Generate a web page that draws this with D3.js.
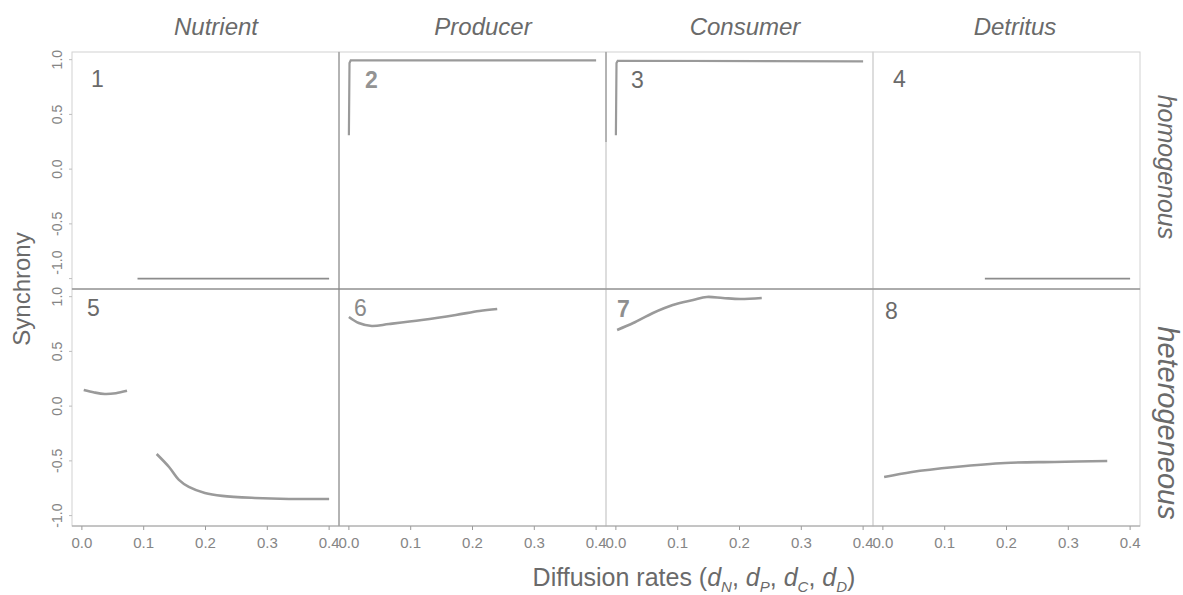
<!DOCTYPE html>
<html>
<head>
<meta charset="utf-8">
<script src="https://cdn.jsdelivr.net/npm/d3@7"></script>
<style>
  html, body { margin: 0; padding: 0; background: #fff; }
  svg { display: block; }
  text { font-family: "Liberation Sans", Arial, sans-serif; }
</style>
</head>
<body>
<svg id="chart" width="1183" height="595"></svg>
<script>
// Facet labels
const columns = ["Nutrient", "Producer", "Consumer", "Detritus"];
const rows = ["homogenous", "heterogeneous"];
const panelNumbers = ["1", "2", "3", "4", "5", "6", "7", "8"];

// Axis ticks
const xTicks = [0, 0.1, 0.2, 0.3, 0.4];
const yTicks = [-1, -0.5, 0, 0.5, 1];

// Synchrony vs diffusion rate, one set of arrays per panel segment
// homogeneous row
const p1x = [0.09, 0.40];
const p1y = [-1.0, -1.0];
const p2x = [0.0, 0.001, 0.003, 0.40];
const p2y = [0.31, 0.97, 0.994, 0.994];
const p3x = [0.0, 0.001, 0.003, 0.40];
const p3y = [0.31, 0.97, 0.99, 0.985];
const p4x = [0.165, 0.40];
const p4y = [-1.0, -1.0];
// heterogeneous row
const p5aX = [0.003, 0.02, 0.037, 0.055, 0.073];
const p5aY = [0.148, 0.125, 0.111, 0.118, 0.14];
const p5bX = [0.121, 0.141, 0.157, 0.173, 0.199, 0.227, 0.28, 0.335, 0.40];
const p5bY = [-0.437, -0.556, -0.674, -0.738, -0.793, -0.82, -0.839, -0.848, -0.848];
const p6x = [0.0, 0.016, 0.037, 0.065, 0.118, 0.173, 0.211, 0.24];
const p6y = [0.814, 0.759, 0.732, 0.75, 0.787, 0.833, 0.869, 0.887];
const p7x = [0.002, 0.028, 0.06, 0.092, 0.125, 0.147, 0.173, 0.201, 0.236];
const p7y = [0.696, 0.759, 0.851, 0.924, 0.969, 0.997, 0.988, 0.979, 0.988];
const p8x = [0.002, 0.047, 0.117, 0.198, 0.278, 0.363];
const p8y = [-0.647, -0.601, -0.556, -0.519, -0.51, -0.501];

const zip = (xs, ys) => xs.map((x, i) => ({ x, y: ys[i] }));

// panel index -> segments; "step" segments are drawn with straight joins
const panels = [
  { segs: [zip(p1x, p1y)], thin: true },
  { segs: [zip(p2x, p2y)], step: true },
  { segs: [zip(p3x, p3y)], step: true },
  { segs: [zip(p4x, p4y)], thin: true },
  { segs: [zip(p5aX, p5aY), zip(p5bX, p5bY)] },
  { segs: [zip(p6x, p6y)] },
  { segs: [zip(p7x, p7y)] },
  { segs: [zip(p8x, p8y)] }
];

// Layout
const plotLeft = 72, plotTop = 52, pw = 267, ph = 237;
const svg = d3.select("#chart");

const x = d3.scaleLinear().domain([-0.016, 0.416]).range([0, pw]);
const y = d3.scaleLinear().domain([-1.095, 1.07]).range([ph, 0]);

const numberStyle = [
  { dx: 19, dy: 35, c: "#6a6a6a", w: "normal" },
  { dx: 26, dy: 36, c: "#939393", w: "bold" },
  { dx: 25, dy: 36, c: "#6a6a6a", w: "normal" },
  { dx: 20, dy: 35, c: "#6a6a6a", w: "normal" },
  { dx: 15, dy: 27, c: "#6a6a6a", w: "normal" },
  { dx: 15, dy: 27, c: "#8a8a8a", w: "normal" },
  { dx: 11, dy: 28, c: "#8f8f8f", w: "bold" },
  { dx: 12, dy: 30, c: "#6a6a6a", w: "normal" }
];

const smooth = d3.line().x(d => x(d.x)).y(d => y(d.y)).curve(d3.curveCatmullRom.alpha(0.5));
const straight = d3.line().x(d => x(d.x)).y(d => y(d.y));

panels.forEach((p, i) => {
  const r = Math.floor(i / 4), c = i % 4;
  const g = svg.append("g")
    .attr("transform", `translate(${plotLeft + c * pw},${plotTop + r * ph})`);

  g.append("rect")
    .attr("width", pw).attr("height", ph)
    .attr("fill", "none")
    .attr("stroke", "#d2d2d2").attr("stroke-width", 1);

  p.segs.forEach(seg => {
    g.append("path")
      .datum(seg)
      .attr("fill", "none")
      .attr("stroke", p.thin ? "#8c8c8c" : "#9a9a9a")
      .attr("stroke-width", p.thin ? 1.6 : (p.step ? 2.2 : 2.6))
      .attr("stroke-linecap", "butt")
      .attr("d", p.step ? straight : smooth);
  });

  const ns = numberStyle[i];
  g.append("text")
    .attr("x", ns.dx).attr("y", ns.dy)
    .attr("font-size", 23)
    .attr("font-weight", ns.w)
    .attr("fill", ns.c)
    .text(panelNumbers[i]);

  // left column carries the y axis
  if (c === 0) {
    const ay = g.append("g");
    ay.selectAll("line").data(yTicks).join("line")
      .attr("x1", -3).attr("x2", 0)
      .attr("y1", d => y(d)).attr("y2", d => y(d))
      .attr("stroke", "#bdbdbd");
    // the lowest label of the upper panel is nudged up clear of the panel below
    ay.selectAll("text").data(yTicks).join("text")
      .attr("transform", d => `translate(-10,${y(d) - (r === 0 && d === yTicks[0] ? 16 : 0)}) rotate(-90)`)
      .attr("text-anchor", "middle")
      .attr("font-size", 14)
      .attr("fill", "#858585")
      .text(d => d3.format(".1f")(d).replace("−", "-"));
  }
  // bottom row carries the x axis
  if (r === 1) {
    const ax = g.append("g").attr("transform", `translate(0,${ph})`);
    ax.selectAll("line").data(xTicks).join("line")
      .attr("x1", d => x(d)).attr("x2", d => x(d))
      .attr("y1", 0).attr("y2", 4)
      .attr("stroke", "#9a9a9a");
    ax.selectAll("text").data(xTicks).join("text")
      .attr("x", d => x(d)).attr("y", 22)
      .attr("text-anchor", "middle")
      .attr("font-size", 15)
      .attr("fill", "#858585")
      .text(d => d3.format(".1f")(d));
  }
});

// Stronger frame lines between panels
const strong = [
  { x1: plotLeft + pw, y1: plotTop, x2: plotLeft + pw, y2: plotTop + 2 * ph, c: "#8a8a8a" },
  { x1: plotLeft, y1: plotTop + ph, x2: plotLeft + 4 * pw, y2: plotTop + ph, c: "#7a7a7a" },
  { x1: plotLeft, y1: plotTop + 2 * ph, x2: plotLeft + 4 * pw, y2: plotTop + 2 * ph, c: "#a0a0a0" },
  { x1: plotLeft + 2 * pw, y1: plotTop, x2: plotLeft + 2 * pw, y2: plotTop + 90, c: "#8a8a8a" }
];
svg.selectAll("line.frame").data(strong).join("line")
  .attr("class", "frame")
  .attr("x1", d => d.x1).attr("y1", d => d.y1)
  .attr("x2", d => d.x2).attr("y2", d => d.y2)
  .attr("stroke", d => d.c).attr("stroke-width", 1);

// Column headers
const headerX = [216, 483, 745, 1015];
svg.selectAll("text.col").data(columns).join("text")
  .attr("class", "col")
  .attr("x", (d, i) => headerX[i]).attr("y", 35)
  .attr("text-anchor", "middle")
  .attr("font-size", 24).attr("font-style", "italic")
  .attr("fill", "#6a6a6a")
  .text(d => d);

// Row strip labels
const rowSize = [25, 29];
const rowY = [167, 423];
svg.selectAll("text.row").data(rows).join("text")
  .attr("class", "row")
  .attr("transform", (d, i) => `translate(1158,${rowY[i]}) rotate(90)`)
  .attr("text-anchor", "middle")
  .attr("font-size", (d, i) => rowSize[i]).attr("font-style", "italic")
  .attr("fill", "#6a6a6a")
  .text(d => d);

// Axis titles
svg.append("text")
  .attr("transform", `translate(30,${plotTop + ph}) rotate(-90)`)
  .attr("text-anchor", "middle")
  .attr("font-size", 24)
  .attr("fill", "#6a6a6a")
  .text("Synchrony");

const xt = svg.append("text")
  .attr("x", 694).attr("y", 586)
  .attr("text-anchor", "middle")
  .attr("font-size", 25)
  .attr("fill", "#6a6a6a");
xt.append("tspan").text("Diffusion rates (");
[["N", ", "], ["P", ", "], ["C", ", "], ["D", ")"]].forEach(([s, sep]) => {
  xt.append("tspan").attr("font-style", "italic").text("d");
  xt.append("tspan").attr("font-style", "italic").attr("font-size", 15)
    .attr("baseline-shift", "-6").text(s);
  xt.append("tspan").text(sep);
});
</script>
</body>
</html>
